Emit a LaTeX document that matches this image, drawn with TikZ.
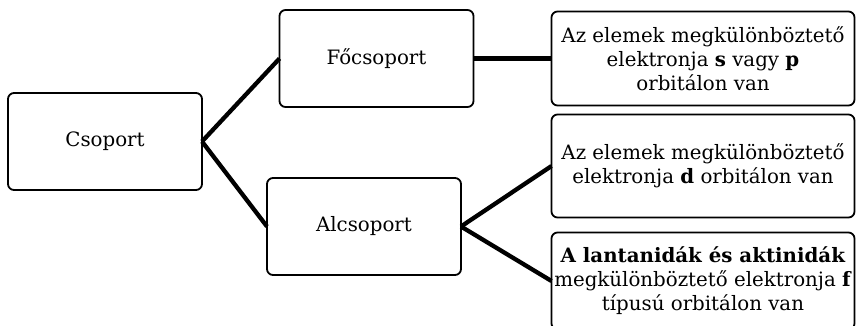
\documentclass[tikz,border=0pt]{standalone}
\usepackage{fontspec}
\setmainfont{DejaVu Serif}
\usetikzlibrary{positioning}

\begin{document}
\begin{tikzpicture}[
    x=1pt, y=-1pt,
    node distance=9pt,
    % Estilos
    box/.style={draw, line width=1.8pt, rounded corners=6pt, fill=white, inner sep=0pt, outer sep=0pt, align=center, font=\fontsize{19.8}{24}\selectfont},
    grp/.style={box, minimum width=194pt, minimum height=97pt},
    info/.style={box, minimum width=303pt},
    conn/.style={line width=4.3pt}
]
\clip (0,0) rectangle (857,325);

% --- Nodos ---
\node[grp] (csop) at (105,141.5) {Csoport};
\node[grp] (foc)  at (376.5,58.5) {Főcsoport};
\node[grp] (alc)  at (364,226.5) {Alcsoport};

\node[info, minimum height=94pt, right=78pt of foc] (sp) {Az elemek megkülönböztető\\ elektronja \textbf{s} vagy \textbf{p}\\ orbitálon van};
\node[info, minimum height=103pt, below=of sp] (d) {Az elemek megkülönböztető\\ elektronja \textbf{d} orbitálon van};
\node[info, minimum height=97pt, below=15pt of d] (f) {\textbf{A lantanidák és aktinidák}\\ megkülönböztető elektronja \textbf{f}\\ típusú orbitálon van};

% --- Conexiones ---
\draw[conn] (csop.east) -- (foc.west);
\draw[conn] (csop.east) -- (alc.west);
\draw[conn] (foc.east)  -- (sp.west);
\draw[conn] (alc.east)  -- (d.west);
\draw[conn] (alc.east)  -- (f.west);

\end{tikzpicture}
\end{document}
